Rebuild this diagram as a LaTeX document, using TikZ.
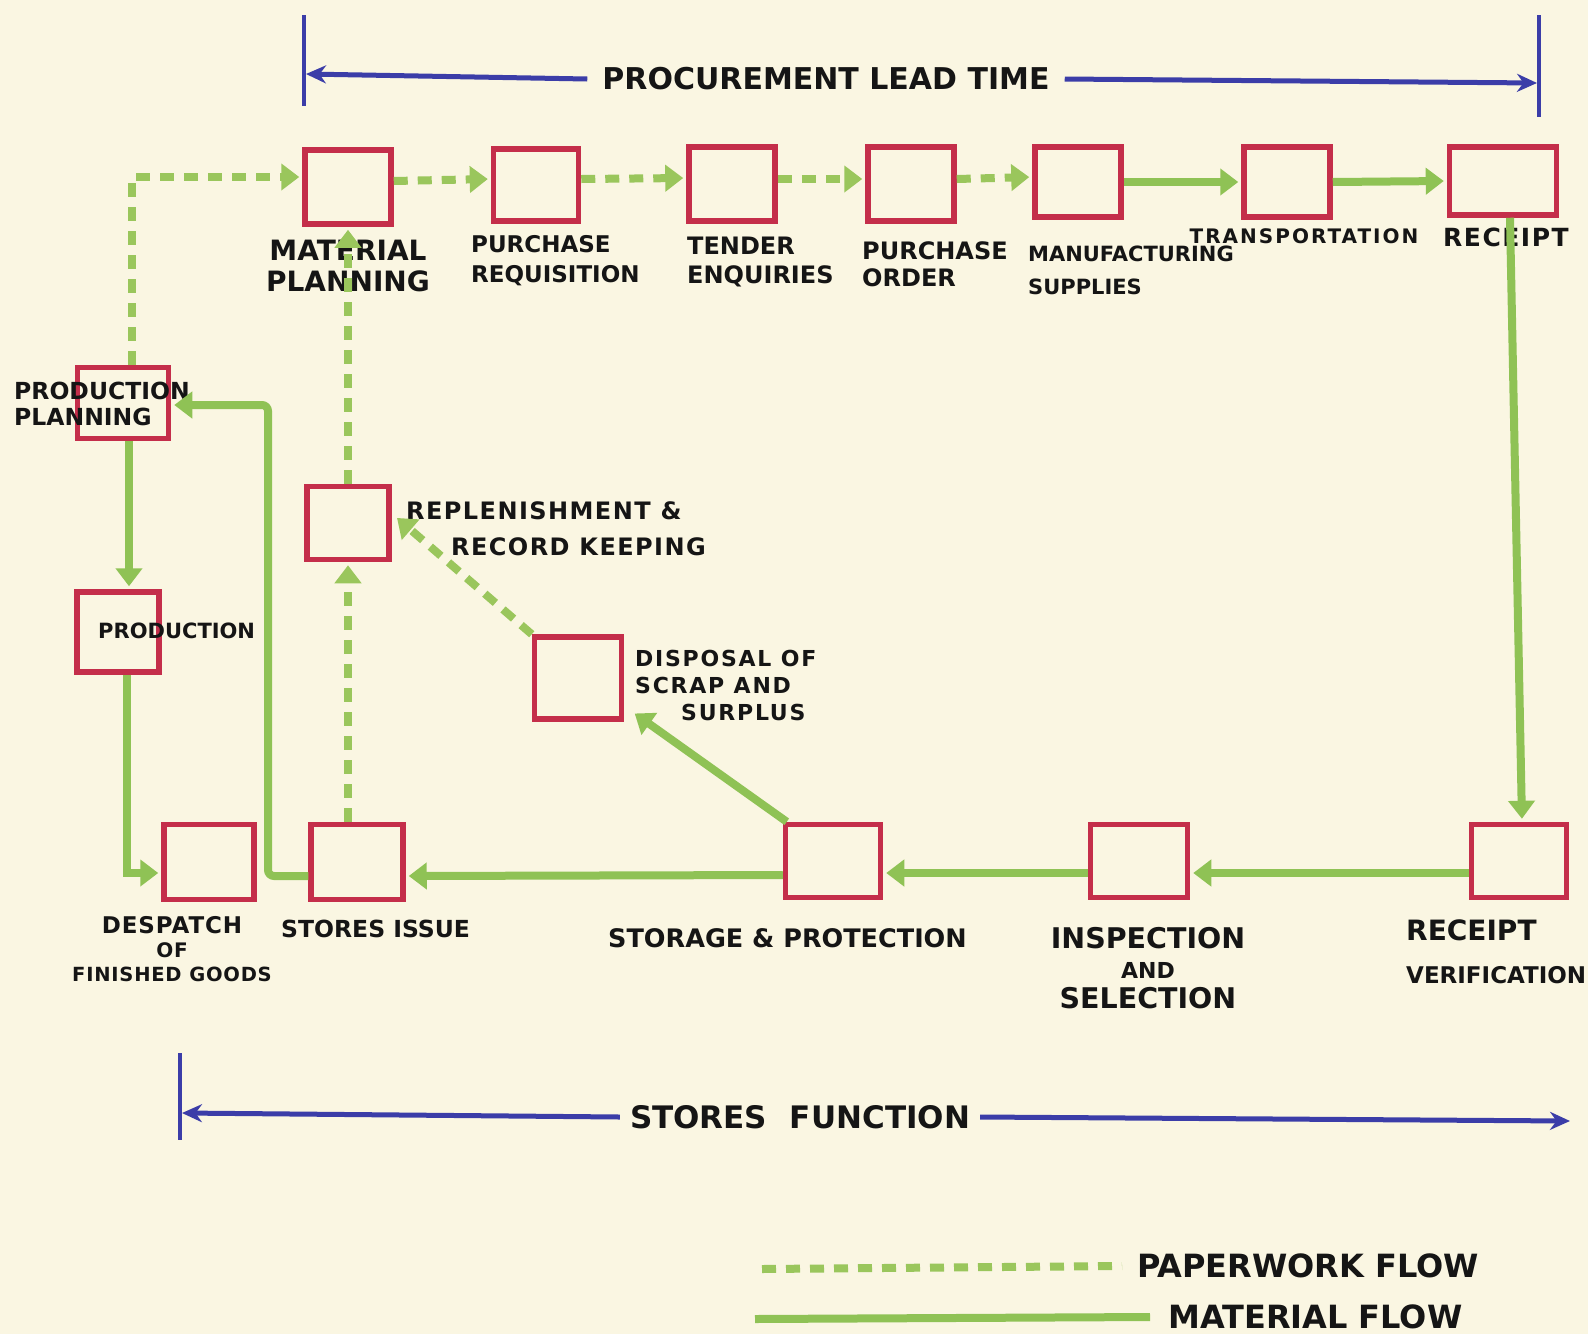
\documentclass[tikz,border=0pt]{standalone}
\usepackage{fontspec}
\setmainfont{DejaVu Sans}
\usetikzlibrary{arrows.meta}
\definecolor{paperbg}{HTML}{FAF6E2}
\definecolor{boxred}{HTML}{C42E4A}
\definecolor{matgreen}{HTML}{8FC255}
\definecolor{papgreen}{HTML}{9AC65C}
\definecolor{inkblue}{HTML}{3B3DA8}
\definecolor{ink}{HTML}{151515}
\newcommand\lfs[2]{\fontsize{#1}{#2}\selectfont}
\newcommand\wide[1]{\addfontfeatures{LetterSpace=#1}}
\begin{document}
\begin{tikzpicture}[x=1pt,y=-1pt,
  box/.style={draw=boxred, line width=5.5pt, minimum width=86pt, minimum height=74pt, inner sep=0pt},
  lbl/.style={text=ink, inner sep=0pt, font=\bfseries},
  mat/.style={draw=matgreen, line width=8pt, shorten >=3pt, -{Triangle[length=18pt,width=26pt]}},
  pap/.style={draw=papgreen, line width=8pt, dash pattern=on 14pt off 10pt, shorten >=3pt, -{Triangle[length=18pt,width=26pt]}},
  matl/.style={draw=matgreen, line width=8pt},
  papl/.style={draw=papgreen, line width=8pt, dash pattern=on 14pt off 10pt},
  bluearr/.style={draw=inkblue, line width=5pt, -{Stealth[length=20pt,width=18pt]}},
  bluebar/.style={draw=inkblue, line width=3.5pt},
]
\fill[paperbg] (0,0) rectangle (1588,1334);
\useasboundingbox (0,0) rectangle (1588,1334);

% ---------- boxes ----------
\node[box] (mp) at (348,187) {};
\node[box, minimum width=85pt, minimum height=72pt] (pr) at (536,185) {};
\node[box] (te) at (732,184) {};
\node[box] (po) at (911,184) {};
\node[box, minimum height=70pt] (ms) at (1078,182) {};
\node[box, minimum height=70pt] (tr) at (1287,182) {};
\node[box, minimum width=107pt, minimum height=68pt] (re) at (1503,181) {};
\node[box, minimum width=91pt, minimum height=71pt] (pp) at (123,403) {};
\node[box, minimum width=82pt, minimum height=80pt] (pd) at (118,632) {};
\node[box, minimum width=82pt, minimum height=73pt] (rr) at (348,523) {};
\node[box, minimum width=87pt, minimum height=82pt] (ds) at (578,678) {};
\node[box, minimum width=90pt, minimum height=75pt] (dg) at (209,862) {};
\node[box, minimum width=92pt, minimum height=75pt] (si) at (357,862) {};
\node[box, minimum width=95pt, minimum height=73pt] (sp) at (833,861) {};
\node[box, minimum width=97pt, minimum height=73pt] (is) at (1139,861) {};
\node[box, minimum width=95pt, minimum height=73pt] (rv) at (1519,861) {};

% ---------- labels ----------
\node[lbl, align=center, font=\bfseries\lfs{28}{31}] (mpl) at (348,266) {MATERIAL\\PLANNING};
\node[lbl, align=left, anchor=west, font=\bfseries\lfs{23}{30}] (prl) at (471,261) {PURCHASE\\REQUISITION};
\node[lbl, align=left, anchor=west, font=\bfseries\lfs{24}{29}] (tel) at (687,262) {TENDER\\ENQUIRIES};
\node[lbl, align=left, anchor=west, font=\bfseries\lfs{24}{27}] (pol) at (862,264) {PURCHASE\\ORDER};
\node[lbl, align=left, anchor=west, font=\bfseries\lfs{21}{33}] (msl) at (1028,270) {MANUFACTURING\\SUPPLIES};
\node[lbl, font=\bfseries\lfs{20}{22}\wide{10}] (trl) at (1304,236) {TRANSPORTATION};
\node[lbl, anchor=west, font=\bfseries\lfs{25}{26}\wide{6}] (rel) at (1443,237) {RECEIPT};
\node[lbl, align=left, anchor=west, font=\bfseries\lfs{23.5}{26}] (ppl) at (14,404) {PRODUCTION\\PLANNING};
\node[lbl, anchor=west, font=\bfseries\lfs{21}{24}] (pdl) at (98,631) {PRODUCTION};
\node[lbl, align=left, anchor=west, font=\bfseries\lfs{24}{36}\wide{6}] (rrl) at (406,529) {REPLENISHMENT \&\\\hspace*{45pt}RECORD KEEPING};
\node[lbl, align=left, anchor=west, font=\bfseries\lfs{22}{27}\wide{8}] (dsl) at (635,685) {DISPOSAL OF\\SCRAP AND\\\hspace*{46pt}SURPLUS};
\node[lbl, align=center, font=\bfseries\lfs{23}{24}\wide{4}] (dgl) at (172,949) {DESPATCH\\{\lfs{20}{24}OF}\\{\lfs{19.5}{24}FINISHED GOODS}};
\node[lbl, anchor=west, font=\bfseries\lfs{23.5}{26}] (sil) at (281,929) {STORES ISSUE};
\node[lbl, anchor=west, font=\bfseries\lfs{25.5}{28}] (spl) at (608,938) {STORAGE \& PROTECTION};
\node[lbl, align=center, font=\bfseries\lfs{28.5}{30}] (isl) at (1148,968) {INSPECTION\\{\lfs{22}{30}AND}\\SELECTION};
\node[lbl, align=left, anchor=west, font=\bfseries\lfs{28}{43}] (rvl) at (1406,952) {RECEIPT\\{\lfs{23}{43}VERIFICATION}};

% ---------- paperwork flow ----------
\draw[pap] ([xshift=9pt]pp.north) |- ([yshift=10pt]mp.west);
\draw[pap] ([yshift=6pt]mp.east) -- ([yshift=6pt]pr.west);
\draw[pap] ([yshift=6pt]pr.east) -- ([yshift=6pt]te.west);
\draw[pap] ([yshift=5pt]te.east) -- ([yshift=5pt]po.west);
\draw[pap] ([yshift=5pt]po.east) -- ([yshift=5pt]ms.west);
\draw[pap] (ds.north west) -- ([shift={(3pt,7pt)}]rr.east);
\draw[pap] (rr.south |- si.north) -- (rr.south);
\draw[pap] (rr.north) -- (mp.south);

% ---------- material flow ----------
\draw[mat] (ms.east) -- (tr.west);
\draw[mat] (tr.east) -- (re.west);
\draw[mat] ([xshift=7pt]re.south) -- ([xshift=3pt]rv.north);
\draw[mat] ([yshift=-12pt]rv.west) -- ([yshift=-12pt]is.east);
\draw[mat] ([yshift=-12pt]is.west) -- ([yshift=-12pt]sp.east);
\draw[mat] ([yshift=-14pt]sp.west) -- ([yshift=-14pt]si.east);
\draw[mat] ([xshift=4pt]sp.north west) -- ([shift={(8pt,10pt)}]ds.south east);
\coordinate (lp) at (268,405);
\draw[mat, rounded corners=6pt] ([yshift=-14pt]si.west) -| (lp) -- (lp -| pp.east);
\draw[mat] ([xshift=6pt]pp.south) -- ([xshift=11pt]pd.north);
\draw[mat] ([xshift=9pt]pd.south) |- ([yshift=-11pt]dg.west);

% ---------- procurement lead time ----------
\node[lbl, inner xsep=15pt, font=\bfseries\lfs{30}{30}] (plt) at (826,79) {PROCUREMENT LEAD TIME};
\coordinate (pbA) at (304,15); \coordinate (pbB) at (304,106);
\coordinate (pbC) at (1539,15); \coordinate (pbD) at (1539,117);
\draw[bluebar] (pbA) -- (pbB);
\draw[bluebar] (pbC) -- (pbD);
\coordinate (pl) at (306,74); \coordinate (pq) at (1537,83);
\draw[bluearr] (plt.west) -- (pl);
\draw[bluearr] (plt.east) -- (pq);

% ---------- stores function ----------
\node[lbl, inner xsep=10pt, font=\bfseries\lfs{31}{30}] (sfn) at (800,1117) {STORES\hspace{12pt} FUNCTION};
\coordinate (sbA) at (180,1053); \coordinate (sbB) at (180,1140);
\draw[bluebar] (sbA) -- (sbB);
\coordinate (sl) at (182,1113); \coordinate (sr) at (1570,1121);
\draw[bluearr] (sfn.west) -- (sl);
\draw[bluearr] (sfn.east) -- (sr);

% ---------- legend ----------
\node[lbl, anchor=west, font=\bfseries\lfs{32}{30}] (pwf) at (1137,1266) {PAPERWORK FLOW};
\node[lbl, anchor=west, font=\bfseries\lfs{32}{30}] (mfl) at (1168,1317) {MATERIAL FLOW};
\coordinate (lgA) at (762,1269);
\coordinate (lgB) at (755,1319);
\draw[papl] (lgA) -- ([xshift=-15pt]pwf.west);
\draw[matl] (lgB) -- ([xshift=-18pt]mfl.west);
\end{tikzpicture}
\end{document}
